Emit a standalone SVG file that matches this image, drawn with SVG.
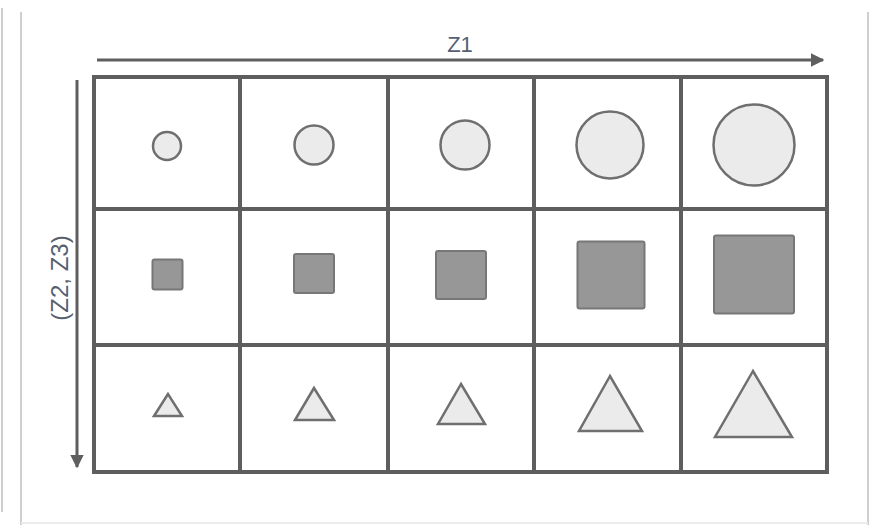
<svg xmlns="http://www.w3.org/2000/svg" width="872" height="525" viewBox="0 0 872 525">
<defs>
<marker id="ah" viewBox="0 0 10 10" refX="9" refY="5" markerWidth="4.5" markerHeight="4.5" orient="auto" markerUnits="strokeWidth">
<path d="M0,0 L10,5 L0,10 z" fill="#5f5f5f"/>
</marker>
<style>
.frame{stroke:#cfcfcf;stroke-width:2;fill:none}
.grid{stroke:#5e5e5e;stroke-width:4;fill:none}
.circ{fill:#ebebeb;stroke:#6f6f6f;stroke-width:2.5}
.sq{fill:#979797;stroke:#777;stroke-width:2}
.tri{fill:#ebebeb;stroke:#6f6f6f;stroke-width:2.5;stroke-linejoin:miter}
.axis{stroke:#5f5f5f;stroke-width:3;fill:none}
.lbl{font-family:"Liberation Sans",Arial,sans-serif;font-size:22px;fill:#58606f}
</style>
</defs>
<rect x="0" y="0" width="872" height="525" fill="#ffffff"/>
<g id="frame">
<line class="frame" x1="2" y1="8" x2="2" y2="512"/>
<line class="frame" x1="21" y1="12" x2="21" y2="525"/>
<line class="frame" x1="868" y1="12" x2="868" y2="525"/>
<line class="frame" x1="21" y1="523" x2="868" y2="523" style="stroke:#ececec"/>
</g>
<g id="grid">
<rect class="grid" x="94" y="77" width="733" height="395"/>
<line class="grid" x1="240" y1="77" x2="240" y2="472"/>
<line class="grid" x1="388" y1="77" x2="388" y2="472"/>
<line class="grid" x1="534" y1="77" x2="534" y2="472"/>
<line class="grid" x1="681" y1="77" x2="681" y2="472"/>
<line class="grid" x1="94" y1="209" x2="827" y2="209"/>
<line class="grid" x1="94" y1="345" x2="827" y2="345"/>
</g>
<g id="circle-1"><circle class="circ" cx="167" cy="146" r="14"/></g>
<g id="circle-2"><circle class="circ" cx="314" cy="145" r="19.5"/></g>
<g id="circle-3"><circle class="circ" cx="465" cy="145" r="24.5"/></g>
<g id="circle-4"><circle class="circ" cx="610" cy="145" r="33.5"/></g>
<g id="circle-5"><circle class="circ" cx="754" cy="145" r="40.5"/></g>
<g id="square-1"><rect class="sq" x="152.5" y="259.5" width="30" height="30" rx="2"/></g>
<g id="square-2"><rect class="sq" x="294" y="254" width="40" height="39" rx="2"/></g>
<g id="square-3"><rect class="sq" x="436" y="251" width="50" height="48" rx="2"/></g>
<g id="square-4"><rect class="sq" x="577.5" y="241.5" width="67" height="67" rx="2"/></g>
<g id="square-5"><rect class="sq" x="714" y="235.5" width="80" height="78" rx="2"/></g>
<g id="triangle-1"><polygon class="tri" points="168,394 154,416 182,416"/></g>
<g id="triangle-2"><polygon class="tri" points="314,388 295,420 334,420"/></g>
<g id="triangle-3"><polygon class="tri" points="461,384 438,424 485,424"/></g>
<g id="triangle-4"><polygon class="tri" points="610,376 579,431 642,431"/></g>
<g id="triangle-5"><polygon class="tri" points="753,371 715,437 792,437"/></g>
<g id="connectors">
<line class="axis" x1="97" y1="60" x2="823" y2="60" marker-end="url(#ah)"/>
<line class="axis" x1="77" y1="80" x2="77" y2="467" marker-end="url(#ah)"/>
</g>
<g id="labels">
<text class="lbl" x="460" y="52" text-anchor="middle">Z1</text>
<text class="lbl" x="0" y="0" text-anchor="middle" transform="translate(68,278) rotate(-90)" style="font-size:24px">(Z2, Z3)</text>
</g>
</svg>
